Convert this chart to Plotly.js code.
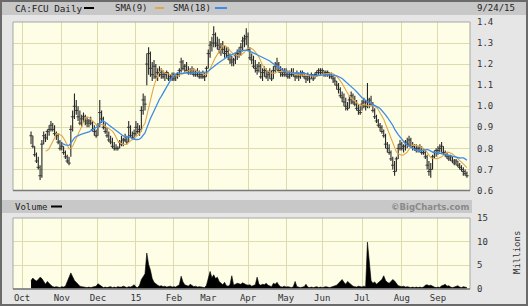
<!DOCTYPE html>
<html><head><meta charset="utf-8">
<script src="https://cdn.plot.ly/plotly-3.0.1.min.js"></script>
<style>html,body{margin:0;padding:0;background:#e6e6e6;overflow:hidden}#chart{width:528px;height:306px}</style>
</head><body><div id="chart"></div>
<script>
// trading-day index of first bar (0 = Oct 1 2014)
const firstDay = 5;
const monthTickIdx = [0,22,42,63,84,103,125,146,166,188,210,230];
const monthLabels = ["Oct","Nov","Dec","15","Feb","Mar","Apr","May","Jun","Jul","Aug","Sep"];
const priceTicks = [0.6,0.7,0.8,0.9,1.0,1.1,1.2,1.3,1.4];
const priceTickText = ["0.6","0.7","0.8","0.9","1.0","1.1","1.2","1.3","1.4"];
const volTicks = [0,5,10,15];
const volTickText = ["0","5","10","15"];

const high = [
.88,.86,.81,.78,.76,.72,.84,.88,.87,.89,
.91,.93,.92,.91,.88,.87,.84,.83,.81,.79,
.77,.76,.91,.98,1.06,1.03,1.00,.98,.96,.97,
.96,.95,.94,.95,.93,.91,.89,.92,1.03,.98,
.95,.92,.90,.88,.86,.85,.83,.82,.81,.84,
.86,.85,.87,.86,.93,.91,.88,.89,.93,.92,
.91,1.00,1.06,1.05,1.25,1.28,1.26,1.21,1.22,1.20,
1.18,1.19,1.18,1.17,1.16,1.17,1.16,1.15,1.16,1.16,
1.15,1.16,1.18,1.23,1.22,1.20,1.21,1.19,1.18,1.19,
1.18,1.17,1.18,1.17,1.16,1.17,1.16,1.19,1.27,1.31,
1.33,1.38,1.35,1.33,1.32,1.30,1.31,1.29,1.28,1.28,
1.25,1.24,1.23,1.25,1.27,1.28,1.30,1.33,1.34,1.37,
1.35,1.28,1.25,1.24,1.22,1.20,1.21,1.20,1.18,1.19,
1.18,1.17,1.18,1.17,1.19,1.21,1.23,1.21,1.19,1.18,
1.18,1.18,1.17,1.17,1.18,1.18,1.16,1.17,1.16,1.17,
1.17,1.16,1.15,1.16,1.15,1.16,1.15,1.16,1.17,1.18,
1.18,1.18,1.17,1.17,1.17,1.16,1.16,1.15,1.14,1.12,
1.11,1.09,1.07,1.06,1.04,1.02,1.05,1.07,1.06,1.05,
1.03,1.01,1.00,1.03,1.04,1.03,1.11,1.04,1.05,1.02,
.99,.96,.94,.92,.91,.89,.87,.83,.82,.79,
.76,.74,.76,.82,.84,.83,.82,.84,.85,.86,
.85,.83,.82,.82,.81,.82,.81,.80,.79,.77,
.74,.73,.77,.79,.80,.81,.82,.83,.81,.79,
.78,.77,.77,.76,.75,.75,.74,.73,.72,.71,
.70,.69];
const low = [
.82,.80,.76,.73,.70,.65,.66,.82,.83,.84,
.86,.88,.88,.86,.84,.82,.79,.79,.77,.75,
.73,.72,.76,.88,.94,.96,.93,.91,.90,.92,
.91,.90,.90,.91,.88,.86,.85,.86,.90,.92,
.89,.87,.85,.83,.82,.80,.79,.79,.79,.80,
.81,.81,.83,.82,.83,.85,.84,.84,.86,.87,
.86,.88,.96,.98,1.10,1.15,1.14,1.12,1.13,1.13,
1.12,1.14,1.13,1.13,1.12,1.13,1.12,1.12,1.12,1.12,
1.12,1.13,1.14,1.16,1.17,1.16,1.16,1.15,1.15,1.15,
1.14,1.14,1.14,1.13,1.13,1.13,1.12,1.14,1.18,1.23,
1.26,1.28,1.28,1.27,1.25,1.24,1.25,1.23,1.23,1.22,
1.20,1.19,1.19,1.20,1.22,1.23,1.24,1.26,1.28,1.29,
1.26,1.22,1.20,1.18,1.16,1.15,1.16,1.13,1.12,1.14,
1.13,1.12,1.13,1.12,1.13,1.16,1.17,1.16,1.14,1.14,
1.14,1.14,1.13,1.13,1.14,1.14,1.12,1.13,1.12,1.13,
1.14,1.13,1.11,1.12,1.11,1.13,1.12,1.13,1.14,1.15,
1.15,1.15,1.14,1.14,1.14,1.13,1.13,1.11,1.10,1.08,
1.06,1.04,1.02,1.00,.98,.98,.99,1.01,1.01,1.00,
.98,.96,.96,.98,.99,.98,.99,.99,1.00,.97,
.94,.92,.90,.88,.87,.85,.80,.78,.77,.74,
.70,.67,.69,.75,.79,.79,.78,.79,.80,.81,
.80,.79,.79,.78,.78,.78,.77,.77,.75,.70,
.67,.66,.70,.75,.76,.77,.78,.78,.77,.76,
.75,.74,.74,.73,.72,.72,.71,.70,.69,.67,
.67,.66];
const close = [
.86,.81,.77,.74,.71,.67,.82,.86,.85,.88,
.89,.91,.89,.87,.86,.83,.80,.81,.78,.76,
.74,.73,.89,.95,1.00,.98,.95,.92,.94,.95,
.93,.92,.93,.92,.89,.88,.86,.91,.97,.94,
.90,.88,.86,.84,.83,.81,.80,.80,.80,.83,
.82,.84,.84,.83,.90,.86,.85,.87,.90,.88,
.89,.98,1.03,1.01,1.20,1.25,1.18,1.15,1.19,1.14,
1.16,1.16,1.15,1.14,1.15,1.16,1.13,1.14,1.15,1.13,
1.14,1.15,1.17,1.21,1.18,1.19,1.17,1.16,1.17,1.16,
1.15,1.16,1.15,1.14,1.15,1.14,1.14,1.18,1.25,1.29,
1.30,1.34,1.30,1.29,1.27,1.28,1.27,1.25,1.26,1.24,
1.22,1.21,1.22,1.24,1.25,1.26,1.28,1.31,1.32,1.33,
1.27,1.23,1.22,1.19,1.18,1.17,1.19,1.14,1.16,1.17,
1.14,1.15,1.16,1.13,1.17,1.19,1.20,1.17,1.16,1.15,
1.16,1.15,1.14,1.15,1.16,1.15,1.14,1.15,1.14,1.15,
1.16,1.14,1.13,1.14,1.13,1.15,1.13,1.15,1.16,1.17,
1.16,1.17,1.15,1.16,1.16,1.15,1.14,1.13,1.12,1.10,
1.08,1.05,1.04,1.02,1.00,.99,1.03,1.05,1.02,1.01,
.99,.98,.97,1.01,1.02,1.00,1.02,1.03,1.01,.98,
.95,.93,.91,.90,.88,.86,.82,.80,.78,.75,
.72,.69,.75,.80,.82,.80,.81,.83,.82,.84,
.81,.81,.80,.79,.80,.79,.78,.78,.76,.72,
.69,.70,.76,.78,.79,.79,.80,.81,.78,.77,
.76,.75,.76,.74,.73,.74,.72,.71,.70,.69,
.68,.67];
const volume = [
1.8,2.3,1.9,1.7,2.0,2.5,2.2,1.5,1.0,1.6,
1.1,0.8,0.5,0.4,0.5,0.4,0.3,0.5,0.4,0.6,
1.5,2.2,3.4,2.6,1.8,1.4,1.0,0.6,0.5,0.4,
0.4,0.3,0.4,0.3,0.4,0.5,0.6,1.1,0.8,0.4,
0.3,0.4,0.3,0.4,0.5,0.3,0.4,0.3,0.5,0.4,
0.4,0.6,0.4,0.3,0.5,0.4,0.6,0.9,0.4,0.3,
0.8,2.0,2.6,3.2,7.6,5.2,4.0,2.2,1.4,1.0,
0.8,0.6,0.7,0.5,0.6,0.4,0.5,0.6,0.4,0.5,
0.4,0.6,0.9,2.7,1.5,0.9,0.8,0.6,1.0,0.7,
0.5,0.6,0.4,0.5,0.4,0.4,0.3,0.8,2.2,3.7,
2.4,3.0,2.2,2.5,1.6,1.2,0.9,1.4,0.7,0.6,
0.9,2.8,0.8,1.0,1.2,1.1,1.0,1.3,1.0,0.9,
0.8,0.9,0.6,0.7,0.9,2.5,1.0,0.8,1.0,0.9,
1.2,0.8,0.6,0.5,1.2,1.0,1.4,0.8,0.5,0.4,
0.6,0.4,0.5,0.4,0.3,0.5,1.6,0.5,0.4,0.3,
0.4,0.5,1.0,0.4,0.3,0.4,0.3,0.4,0.5,0.3,
0.4,0.3,0.4,0.5,0.4,0.3,0.4,0.5,0.6,0.8,
1.2,1.6,2.0,1.4,1.0,1.6,1.2,0.8,0.6,0.5,
0.4,0.6,0.5,0.4,0.6,0.5,9.9,5.5,1.8,1.2,
1.5,1.0,1.3,1.6,2.0,2.8,1.8,1.4,1.2,1.6,
2.0,1.7,1.2,0.7,0.6,0.5,0.6,0.4,0.5,0.4,
0.3,0.4,0.3,0.4,0.3,0.4,0.3,0.4,0.8,0.9,
0.7,0.8,0.5,0.4,0.3,0.4,0.3,0.7,0.8,1.0,
0.6,0.7,0.4,0.3,0.4,0.5,0.7,0.4,0.3,0.5,
0.4,0.3];

const x = close.map((_, k) => firstDay + k);
function sma(arr, n) {
  return arr.map((_, k) => {
    if (k < n - 1) return null;
    let s = 0; for (let j = k - n + 1; j <= k; j++) s += arr[j];
    return s / n;
  });
}
const sma9 = sma(close, 9), sma18 = sma(close, 18);

// pixel geometry helpers
const L = 13, R = 470, T = 22, B = 289;
const px = v => (v - L) / (R - L);
const py = v => (B - v) / (B - T);

const MONO = "DejaVu Sans Mono, monospace";
const gridC = "#dcdcae", bgC = "#fefee6";

const traces = [
  { type: "scatter", mode: "markers", x: x, y: close, xaxis: "x", yaxis: "y",
    marker: { symbol: "line-ew", size: 2.5, color: "#333", line: { width: 0.9, color: "#333" } },
    error_y: { type: "data", symmetric: false,
      array: high.map((h, k) => h - close[k]),
      arrayminus: low.map((l, k) => close[k] - l),
      width: 0, thickness: 1.1, color: "#262626" },
    hoverinfo: "skip", showlegend: false },
  { type: "scatter", mode: "lines", x: x, y: sma9, xaxis: "x", yaxis: "y",
    line: { color: "#e2a64c", width: 1.1 }, hoverinfo: "skip", showlegend: false },
  { type: "scatter", mode: "lines", x: x, y: sma18, xaxis: "x", yaxis: "y",
    line: { color: "#3d8de6", width: 1.3 }, hoverinfo: "skip", showlegend: false },
  { type: "scatter", mode: "lines", x: x, y: volume, xaxis: "x2", yaxis: "y2",
    fill: "tozeroy", fillcolor: "#000", line: { color: "#000", width: 0.6 },
    hoverinfo: "skip", showlegend: false }
];

const xr = [-4.976, 247.7];
const layout = {
  width: 528, height: 306,
  margin: { l: L, r: 528 - R, t: T, b: 306 - B, pad: 0 },
  paper_bgcolor: "#e6e6e6", plot_bgcolor: bgC,
  showlegend: false,
  xaxis: { domain: [0, 1], range: xr, anchor: "y", tickmode: "array", tickvals: monthTickIdx,
    showticklabels: false, showgrid: true, gridcolor: gridC, gridwidth: 1, zeroline: false,
    showline: false, ticks: "" },
  yaxis: { domain: [py(190.5), 1], range: [0.6, 1.4], side: "right", tickmode: "array",
    tickvals: priceTicks, ticktext: priceTickText, showgrid: true, gridcolor: gridC,
    zeroline: false, showline: false, ticks: "", ticklabelstandoff: 6,
    tickfont: { family: MONO, size: 9, color: "#333" } },
  xaxis2: { domain: [0, 1], range: xr, anchor: "y2", tickmode: "array", tickvals: monthTickIdx,
    ticktext: monthLabels, showgrid: true, gridcolor: gridC, zeroline: false, showline: false,
    ticks: "", ticklabelstandoff: 2, tickfont: { family: MONO, size: 9, color: "#333" } },
  yaxis2: { domain: [0, py(218)], range: [0, 15], side: "right", anchor: "x2", tickmode: "array",
    tickvals: volTicks, ticktext: volTickText, showgrid: true, gridcolor: gridC,
    zeroline: false, showline: false, ticks: "", ticklabelstandoff: 6,
    tickfont: { family: MONO, size: 9, color: "#333" } },
  shapes: [
    { type: "rect", xref: "paper", yref: "paper", x0: px(1), x1: px(527), y0: py(15), y1: py(1),
      fillcolor: "#c8c8c8", line: { width: 0 }, layer: "below" },
    { type: "rect", xref: "paper", yref: "paper", x0: px(2), x1: px(472), y0: py(213), y1: py(200),
      fillcolor: "#c8c8c8", line: { width: 0 }, layer: "below" },
    { type: "rect", xref: "paper", yref: "paper", x0: px(84), x1: px(94), y0: py(9), y1: py(7),
      fillcolor: "#000", line: { width: 0 } },
    { type: "rect", xref: "paper", yref: "paper", x0: px(155), x1: px(164), y0: py(9), y1: py(7),
      fillcolor: "#e2a64c", line: { width: 0 } },
    { type: "rect", xref: "paper", yref: "paper", x0: px(215), x1: px(227), y0: py(9), y1: py(7),
      fillcolor: "#3d8de6", line: { width: 0 } },
    { type: "rect", xref: "paper", yref: "paper", x0: px(51), x1: px(62), y0: py(207.5), y1: py(205.5),
      fillcolor: "#000", line: { width: 0 } },
    { type: "rect", xref: "paper", yref: "paper", x0: 0, x1: 1, y0: py(190.5), y1: 1,
      line: { color: "#a6a6a6", width: 1 }, fillcolor: "rgba(0,0,0,0)" },
    { type: "line", xref: "paper", yref: "paper", x0: 0, x1: 1, y0: py(190.5), y1: py(190.5),
      line: { color: "#7a7a7a", width: 1.5 } },
    { type: "rect", xref: "paper", yref: "paper", x0: 0, x1: 1, y0: 0, y1: py(218),
      line: { color: "#a6a6a6", width: 1 }, fillcolor: "rgba(0,0,0,0)" },
    { type: "line", xref: "paper", yref: "paper", x0: 0, x1: 1, y0: 0, y1: 0,
      line: { color: "#7a7a7a", width: 1.5 } },
    { type: "rect", xref: "paper", yref: "paper", x0: px(1), x1: px(527), y0: py(305), y1: py(1),
      line: { color: "#6a6a6a", width: 2 }, fillcolor: "rgba(0,0,0,0)" }
  ],
  annotations: [
    { xref: "paper", yref: "paper", x: px(13), y: py(8), xanchor: "left", yanchor: "middle",
      text: "CA:FCU Daily", showarrow: false, font: { family: MONO, size: 9.3, color: "#222" } },
    { xref: "paper", yref: "paper", x: px(113), y: py(8), xanchor: "left", yanchor: "middle",
      text: "SMA(9)", showarrow: false, font: { family: MONO, size: 9, color: "#222" } },
    { xref: "paper", yref: "paper", x: px(171), y: py(8), xanchor: "left", yanchor: "middle",
      text: "SMA(18)", showarrow: false, font: { family: MONO, size: 9, color: "#222" } },
    { xref: "paper", yref: "paper", x: px(517), y: py(8), xanchor: "right", yanchor: "middle",
      text: "9/24/15", showarrow: false, font: { family: MONO, size: 9, color: "#222" } },
    { xref: "paper", yref: "paper", x: px(13), y: py(206.5), xanchor: "left", yanchor: "middle",
      text: "Volume", showarrow: false, font: { family: MONO, size: 9, color: "#222" } },
    { xref: "paper", yref: "paper", x: px(471), y: py(206.5), xanchor: "right", yanchor: "middle",
      text: "<b>©BigCharts.com</b>", showarrow: false,
      font: { family: "DejaVu Sans, sans-serif", size: 8.5, color: "#8a8a8a" } },
    { xref: "paper", yref: "paper", x: px(517), y: py(253), xanchor: "center", yanchor: "middle",
      text: "Millions", textangle: -90, showarrow: false,
      font: { family: MONO, size: 9, color: "#333" } }
  ]
};

Plotly.newPlot("chart", traces, layout, { staticPlot: true, displayModeBar: false });
</script></body></html>
